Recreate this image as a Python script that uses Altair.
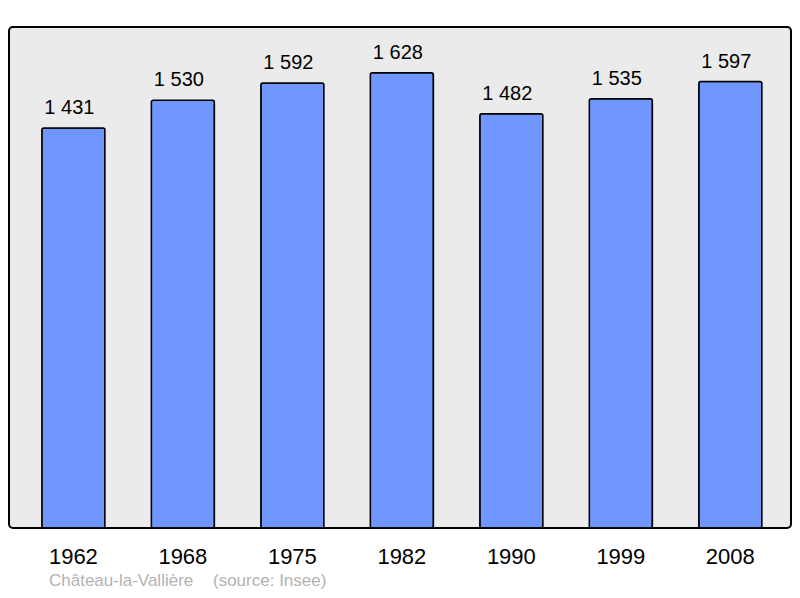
import altair as alt
import pandas as pd

years = ["1962", "1968", "1975", "1982", "1990", "1999", "2008"]
population = [1431, 1530, 1592, 1628, 1482, 1535, 1597]
labels = ["1 431", "1 530", "1 592", "1 628", "1 482", "1 535", "1 597"]
town = "Château-la-Vallière"
source = "(source: Insee)"

df = pd.DataFrame({"year": years, "pop": population, "label": labels})

x = alt.X("year:N", sort=years,
          scale=alt.Scale(paddingInner=0.424, paddingOuter=0.283, align=0.53),
          axis=alt.Axis(title=None, labelAngle=0, ticks=False, domain=False, grid=False,
                        labelFontSize=22, labelFont="Liberation Sans", labelColor="black",
                        labelPadding=18, labelBaseline="top"))
y = alt.Y("pop:Q", scale=alt.Scale(domain=[0, 1792], nice=False, zero=True),
          axis=None)

bars = alt.Chart(df).mark_bar(color="#7096ff", stroke="black", strokeWidth=1.5,
                              cornerRadius=2).encode(x=x, y=y)
text = alt.Chart(df).mark_text(font="Liberation Sans", fontSize=20, color="black",
                               baseline="alphabetic", dy=-14, dx=-4).encode(
    x=alt.X("year:N", sort=years), y="pop:Q", text="label:N")

src = pd.DataFrame({"t": [town, source], "px": [40, 204]})
note = alt.Chart(src).mark_text(font="Liberation Sans", fontSize=17, color="#b3b3b3",
                                align="left", baseline="alphabetic").encode(
    x=alt.X("px:Q", scale=None), y=alt.value(559), text="t:N")

chart = alt.layer(bars, text, note).properties(
    width=782, height=501, autosize="none",
    padding={"left": 1, "top": 19, "right": 1, "bottom": 62},
    background="white",
).configure_view(fill="#ebebeb", stroke="black", strokeWidth=2, cornerRadius=4)

chart.save("out.html", embed_options={"renderer": "svg", "actions": False})
